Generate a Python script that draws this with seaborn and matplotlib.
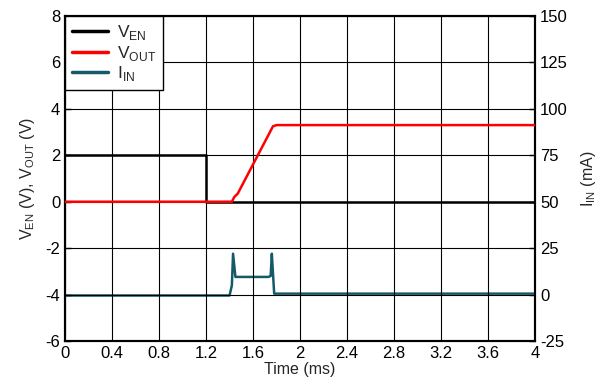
import numpy as np
import pandas as pd
import matplotlib.pyplot as plt
import seaborn as sns

# time (ms) breakpoints
t_en = [0, 1.2, 1.2, 4.0]
v_en = [2.0, 2.0, 0.0, 0.0]

t_out = [0, 1.42, 1.44, 1.47, 1.77, 1.80, 4.0]
v_out = [0.0, 0.0, 0.2, 0.35, 3.25, 3.3, 3.3]

t_in = [0, 1.40, 1.42, 1.43, 1.45, 1.73, 1.75, 1.76, 1.78, 4.0]
i_in = [-0.5, -0.5, 5.0, 22.0, 9.5, 9.5, 10.0, 22.0, 0.5, 0.5]

sns.set_style("white")
plt.rcParams['font.family'] = ['Liberation Sans', 'DejaVu Sans']
plt.rcParams['mathtext.fontset'] = 'custom'
plt.rcParams['mathtext.rm'] = 'Liberation Sans'
plt.rcParams['axes.unicode_minus'] = False

fig = plt.figure(figsize=(6.1, 3.89), dpi=100)
ax = fig.add_axes([0.1066, 0.1234, 0.7705, 0.8355])
ax2 = ax.twinx()

en_df = pd.DataFrame({'t': t_en, 'v': v_en})
out_df = pd.DataFrame({'t': t_out, 'v': v_out})
in_df = pd.DataFrame({'t': t_in, 'i': i_in})

sns.lineplot(data=en_df, x='t', y='v', ax=ax, color='black', lw=1.8,
             estimator=None, sort=False, label=r'V$_{\mathregular{EN}}$', zorder=3)
sns.lineplot(data=out_df, x='t', y='v', ax=ax, color='#ff0000', lw=1.8,
             estimator=None, sort=False, label=r'V$_{\mathregular{OUT}}$', zorder=3)
sns.lineplot(data=in_df, x='t', y='i', ax=ax2, color='#145a68', lw=1.8,
             estimator=None, sort=False, legend=False, zorder=3)
ax.plot([], [], color='#145a68', lw=1.8, label=r'I$_{\mathregular{IN}}$')

ax.set_xlim(0, 4)
ax.set_ylim(-6, 8)
ax2.set_ylim(-25, 150)
ax.set_xticks(np.arange(0, 4.01, 0.4))
ax.set_xticklabels(['0', '0.4', '0.8', '1.2', '1.6', '2', '2.4', '2.8', '3.2', '3.6', '4'])
ax.set_yticks(np.arange(-6, 8.1, 2))
ax2.set_yticks(np.arange(-25, 151, 25))

ax.grid(True, color='black', lw=0.8)
ax.set_axisbelow(False)
for a in (ax, ax2):
    for s in a.spines.values():
        s.set_color('black')
        s.set_linewidth(1.5)
    a.tick_params(direction='in', length=4, width=1, labelsize=12, colors='black')

ax.set_xlabel('Time (ms)', fontsize=11.5, labelpad=1)
ax.set_ylabel(r'V$_{\mathregular{EN}}$ (V), V$_{\mathregular{OUT}}$ (V)', fontsize=11.5, labelpad=6)
ax2.set_ylabel(r'I$_{\mathregular{IN}}$ (mA)', fontsize=11.5, labelpad=8)

leg = ax.legend(loc='upper left', fontsize=12.5, frameon=True, fancybox=False,
                borderaxespad=0, handlelength=2.1, handletextpad=0.5,
                labelspacing=0.1, borderpad=0.4)
leg.get_frame().set_edgecolor('black')
leg.get_frame().set_linewidth(1.0)
leg.get_frame().set_alpha(1)
for line in leg.get_lines():
    line.set_linewidth(2.5)
leg.set_zorder(10)
ax.set_zorder(2)
ax.patch.set_visible(False)
ax2.set_zorder(1)

fig.savefig('out.png', dpi=100)
